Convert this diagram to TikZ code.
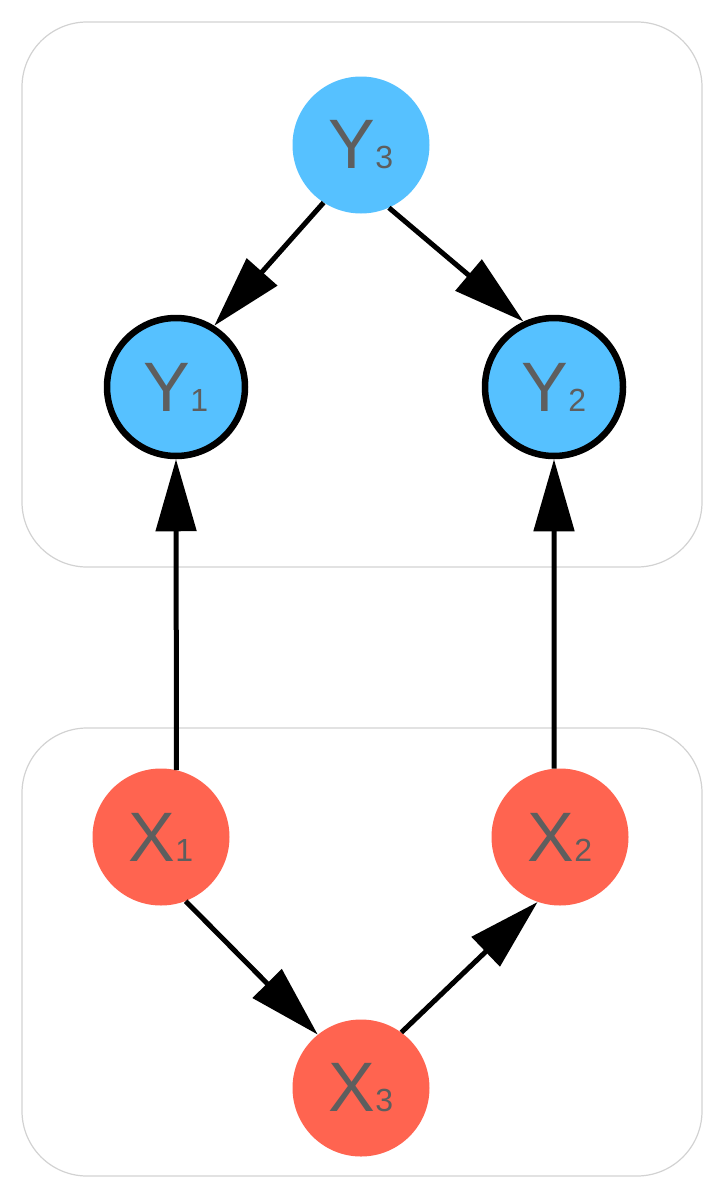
\documentclass[tikz,border=0pt]{standalone}
\usepackage{fontspec}
\setmainfont{Liberation Sans}
\usetikzlibrary{arrows.meta}
\definecolor{yblue}{HTML}{56C1FF}
\definecolor{xred}{HTML}{FF6450}
\definecolor{txtgray}{HTML}{5E5E5E}
\definecolor{boxgray}{HTML}{D2D2D2}
\tikzset{
  vnode/.style={circle, minimum size=137pt, inner sep=0pt, text=txtgray},
  ynode/.style={vnode, fill=yblue},
  yobs/.style={ynode, draw=black, line width=6.5pt, minimum size=138pt},
  xnode/.style={vnode, fill=xred},
  edge/.style={line width=5pt, -{Triangle[length=72pt,width=40pt]}},
  cluster/.style={draw=boxgray, line width=1.2pt, rounded corners=65pt}
}
\newcommand{\lbl}[2]{{\fontsize{70}{70}\selectfont #1}{\fontsize{32}{32}\selectfont #2}}
\begin{document}
\begin{tikzpicture}[x=1pt,y=-1pt]
\useasboundingbox (0,0) rectangle (722,1194);
\draw[cluster] (22,22) rectangle (702,567);
\draw[cluster] (22,728) rectangle (702,1176);
\node[ynode] (Y3) at (361,145) {\lbl{Y}{3}};
\node[yobs] (Y1) at (176,387) {\lbl{Y}{1}};
\node[yobs] (Y2) at (554,387) {\lbl{Y}{2}};
\node[xnode] (X1) at (161,837) {\lbl{X}{1}};
\node[xnode] (X2) at (560,837) {\lbl{X}{2}};
\node[xnode] (X3) at (361,1088) {\lbl{X}{3}};
\draw[edge] (Y3.237.7) -- (Y1.58.6);
\draw[edge] (Y3.-66) -- (Y2.115.8);
\draw[edge] (X1.77.4) -- (Y1.south);
\draw[edge] (X2.95.4) -- (Y2.south);
\draw[edge] (X1.-69) -- (X3.129);
\draw[edge] (X3.54.7) -- (X2.-109);
\end{tikzpicture}
\end{document}
